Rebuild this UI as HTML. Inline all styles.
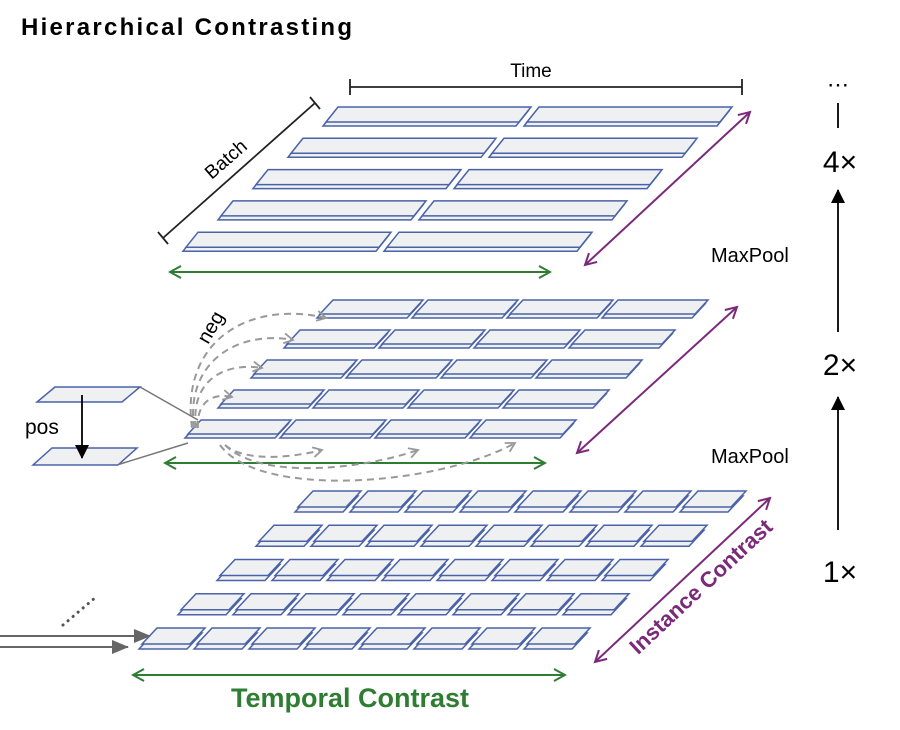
<!DOCTYPE html>
<html><head><meta charset="utf-8"><style>
html,body{margin:0;padding:0;background:#fff;}
svg{display:block;font-family:"Liberation Sans",Arial,sans-serif;}
</style></head><body>
<svg id="s" width="900" height="730" viewBox="0 0 900 730" xmlns="http://www.w3.org/2000/svg">
<defs>
<marker id="gh" markerWidth="14" markerHeight="14" refX="12" refY="7" orient="auto-start-reverse" markerUnits="userSpaceOnUse"><path d="M1,1 L12,7 L1,13" fill="none" stroke="#2e7d32" stroke-width="2"/></marker>
<marker id="ph" markerWidth="14" markerHeight="14" refX="12" refY="7" orient="auto-start-reverse" markerUnits="userSpaceOnUse"><path d="M1,1 L12,7 L1,13" fill="none" stroke="#7b2a7a" stroke-width="2"/></marker>
<marker id="dh" markerWidth="12" markerHeight="12" refX="10" refY="6" orient="auto" markerUnits="userSpaceOnUse"><path d="M1,1 L10,6 L1,11" fill="none" stroke="#999" stroke-width="1.8"/></marker>
<marker id="kh" markerWidth="14" markerHeight="16" refX="13" refY="8" orient="auto" markerUnits="userSpaceOnUse"><path d="M0,1 L14,8 L0,15 Z" fill="#000"/></marker>
<marker id="gr" markerWidth="18" markerHeight="16" refX="16" refY="8" orient="auto" markerUnits="userSpaceOnUse"><path d="M0,1 L17,8 L0,15 Z" fill="#666"/></marker>
</defs>
<text x="21" y="35" font-size="24" font-weight="bold" textLength="331">Hierarchical Contrasting</text>
<g id="cells"></g>
<!-- Time bracket -->
<g stroke="#222" stroke-width="1.8"><line x1="350" y1="87" x2="742" y2="87"/><line x1="350" y1="79" x2="350" y2="95"/><line x1="742" y1="79" x2="742" y2="95"/>
<line x1="163" y1="238" x2="315" y2="103"/><line x1="158" y1="232" x2="168" y2="244"/><line x1="310" y1="97" x2="320" y2="109"/></g>
<text x="531" y="77" font-size="19" text-anchor="middle">Time</text>
<text x="0" y="0" font-size="19" text-anchor="middle" transform="translate(230,164) rotate(-41)">Batch</text>
<!-- green arrows -->
<g stroke="#2e7d32" stroke-width="2" fill="none">
<line x1="170" y1="272" x2="550" y2="272" marker-start="url(#gh)" marker-end="url(#gh)"/>
<line x1="165" y1="463" x2="545" y2="463" marker-start="url(#gh)" marker-end="url(#gh)"/>
<line x1="133" y1="675" x2="565" y2="675" marker-start="url(#gh)" marker-end="url(#gh)"/>
</g>
<g stroke="#7b2a7a" stroke-width="2" fill="none">
<line x1="750" y1="112" x2="585" y2="265" marker-start="url(#ph)" marker-end="url(#ph)"/>
<line x1="737" y1="307" x2="577" y2="453" marker-start="url(#ph)" marker-end="url(#ph)"/>
<line x1="770" y1="498" x2="595" y2="662" marker-start="url(#ph)" marker-end="url(#ph)"/>
</g>
<text x="0" y="0" font-size="22" font-weight="bold" fill="#7b2a7a" text-anchor="middle" transform="translate(706,592) rotate(-43)">Instance Contrast</text>
<text x="350" y="707" font-size="27" font-weight="bold" fill="#2e7d32" text-anchor="middle">Temporal Contrast</text>
<!-- neg arcs -->
<g stroke="#999" stroke-width="2" fill="none" stroke-dasharray="7,5">
<path d="M192,428 C180,340 250,300 326,318" marker-end="url(#dh)"/>
<path d="M194,428 C185,360 240,330 293,340" marker-end="url(#dh)"/>
<path d="M196,428 C190,380 225,362 262,368" marker-end="url(#dh)"/>
<path d="M198,428 C196,405 210,392 232,397" marker-end="url(#dh)"/>
<path d="M225,445 C245,462 290,458 322,450" marker-end="url(#dh)"/>
<path d="M225,445 C260,480 360,470 418,450" marker-end="url(#dh)"/>
<path d="M220,445 C260,500 440,485 515,443" marker-end="url(#dh)"/>
</g>
<text x="0" y="0" font-size="20" transform="translate(208,345) rotate(-60)">neg</text>
<!-- pos -->
<g stroke="#4a62a8" stroke-width="1.5" fill="#eff0f2">
<polygon points="55,387 140,387 122,402 37,402"/>
<polygon points="52,448 137,448 118,465 33,465"/>
</g>
<line x1="82" y1="395" x2="82" y2="458" stroke="#000" stroke-width="1.8" marker-end="url(#kh)"/>
<text x="25" y="434" font-size="21">pos</text>
<g stroke="#777" stroke-width="1.5"><line x1="140" y1="387" x2="198" y2="420"/><line x1="117" y1="465" x2="188" y2="443"/></g>
<!-- input arrows -->
<g stroke="#666" stroke-width="2"><line x1="0" y1="636" x2="150" y2="636" marker-end="url(#gr)"/><line x1="0" y1="647" x2="128" y2="647" marker-end="url(#gr)"/></g>
<line x1="63" y1="625" x2="96" y2="597" stroke="#555" stroke-width="3" stroke-dasharray="0.1,6.5" stroke-linecap="round"/>
<!-- right column -->
<text x="838" y="92" font-size="22" text-anchor="middle">⋯</text>
<g stroke="#000" stroke-width="1.8"><line x1="838" y1="103" x2="838" y2="128"/>
<line x1="838" y1="332" x2="838" y2="190" marker-end="url(#kh)"/>
<line x1="838" y1="530" x2="838" y2="397" marker-end="url(#kh)"/></g>
<g font-size="30" text-anchor="middle"><text x="840" y="172">4×</text><text x="840" y="375">2×</text><text x="840" y="582">1×</text></g>
<g font-size="20"><text x="711" y="262">MaxPool</text><text x="711" y="463">MaxPool</text></g>
</svg>
<script>
(function(){
var g=document.getElementById('cells'),ns='http://www.w3.org/2000/svg',out='';
function cell(x,y,w,h,s,o){
 function p(dx,dy){return (x+s+dx)+','+(y+dy)+' '+(x+s+w+dx)+','+(y+dy)+' '+(x+w+dx)+','+(y+h+dy)+' '+(x+dx)+','+(y+h+dy);}
 out+='<polygon points="'+p(-3,o)+'"/><polygon points="'+p(0,0)+'"/>';
}
function layer(y0,dy,x0,dx,n,pitch,len,s,h,o){
 for(var r=0;r<5;r++){var y=y0+dy*r,xl=x0-dx*r;for(var c=0;c<n;c++){cell(xl+c*pitch-s,y,len,h,s,o);}}
}
layer(107,31.3,338,35,2,201,193,12,15,4);
layer(300,30,333,33,4,95,90,13,14,4);
layer(491,34.25,313,39,8,55,48,15,16,5);
g.innerHTML='<g stroke="#4a62a8" stroke-width="1.5" fill="#eff0f2" stroke-linejoin="miter">'+out+'</g>';
})();
</script>
</body></html>
